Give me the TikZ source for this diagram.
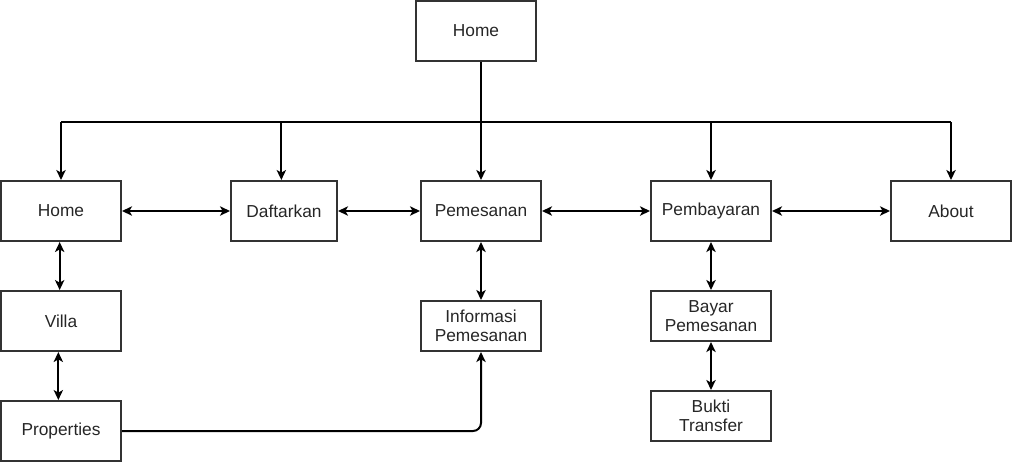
\documentclass[tikz,border=0pt]{standalone}
\usepackage{fontspec}
\setmainfont{Liberation Sans}
\usetikzlibrary{arrows.meta}

\begin{document}
\begin{tikzpicture}[x=0.75pt,y=-0.75pt,>={Stealth[length=7.5pt,width=7pt,inset=2pt]},line width=1.5pt,
    page/.style={draw=black!80,line width=1.5pt,minimum width=90pt,minimum height=45pt,
      align=center,font=\fontsize{13}{14.5}\selectfont,text=black!85,inner sep=1pt},
    sub/.style={page,minimum height=37.5pt}]
    \useasboundingbox (0,0) rectangle (1012,462);
    \node[page] (top) at (476,31) {Home};
    \node[page] (home) at (61,211) {Home};
    \node[page,minimum width=79.5pt] (daftar) [right of=home,node distance=167.25pt]{Daftarkan};
    \node[page] (pesan) [right of=daftar,node distance=147.75pt]{Pemesanan};
    \node[page] (bayar) [right of=pesan,node distance=172.5pt]{Pembayaran};
    \node[page] (about) [right of=bayar,node distance=180pt]{About};
    \node[page] (villa) [below of=home,node distance=82.5pt]{Villa};
    \node[page] (prop) [below of=villa,node distance=82.5pt]{Properties};
    \node[sub] (info) [below of=pesan,node distance=86.25pt]{Informasi\\Pemesanan};
    \node[sub] (bayarpesan) [below of=bayar,node distance=78.75pt]{Bayar\\Pemesanan};
    \node[sub] (bukti) [below of=bayarpesan,node distance=75pt]{Bukti\\Transfer};
    \coordinate (busl) at (61,122);
    \coordinate (busr) at (951,122);
    % menu bar
    \draw (top.south -| pesan) -- (busl -| pesan);
    \draw (busl) -- (busr);
    \draw[->] (busl) -- (home);
    \draw[->] ([xshift=-2pt]busl -| daftar) -- ([xshift=-2pt]daftar.north);
    \draw[->] (busl -| pesan) -- (pesan);
    \draw[->] (busl -| bayar) -- (bayar);
    \draw[->] (busr) -- (about);
    % links between pages
    \path[<->]
    (home) edge (daftar)
    (daftar) edge (pesan)
    (pesan) edge (bayar)
    (bayar) edge (about)
    ([xshift=-1pt]home.south) edge ([xshift=-1pt]villa.north)
    ([xshift=-2pt]villa.south) edge ([xshift=-2pt]prop.north)
    (pesan) edge (info)
    (bayar) edge (bayarpesan)
    (bayarpesan) edge (bukti)
;
    \draw[->,rounded corners=6pt] (prop) -| (info);
  \end{tikzpicture}
\end{document}
